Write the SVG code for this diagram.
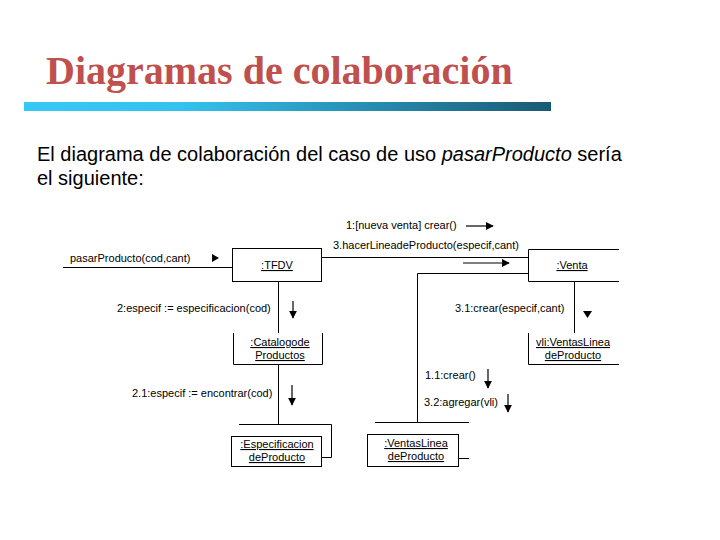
<svg xmlns="http://www.w3.org/2000/svg" width="720" height="540" viewBox="0 0 720 540">
<defs>
<linearGradient id="bar" x1="0" y1="0" x2="1" y2="0">
<stop offset="0" stop-color="#36c8f4"/>
<stop offset="0.3" stop-color="#33c2ee"/>
<stop offset="1" stop-color="#1a5a74"/>
</linearGradient>
<marker id="ah" viewBox="0 0 10 10" refX="9" refY="5" markerWidth="8" markerHeight="8" markerUnits="userSpaceOnUse" orient="auto">
<path d="M0,0 L10,5 L0,10 z" fill="#000"/>
</marker>
</defs>
<style>
.t{font-family:"Liberation Sans",Arial,sans-serif;font-size:11px;fill:#000}
.u{text-decoration:underline;text-anchor:middle}
.ln{stroke:#000;stroke-width:1;fill:none}
.ar{stroke:#000;stroke-width:1.2;fill:none;marker-end:url(#ah)}
.body{font-family:"Liberation Sans",Arial,sans-serif;font-size:20px;fill:#000}
</style>
<rect width="720" height="540" fill="#fff"/>
<text x="46" y="84" font-family="Liberation Serif,'Times New Roman',serif" font-weight="bold" font-size="40" fill="#c0504d">Diagramas de colaboración</text>
<rect x="24" y="102" width="527" height="9" fill="url(#bar)"/>
<text class="body" x="37" y="161">El diagrama de colaboración del caso de uso <tspan font-style="italic">pasarProducto</tspan> sería</text>
<text class="body" x="37" y="185">el siguiente:</text>

<g id="connectors">
<line class="ln" x1="63" y1="267.5" x2="232" y2="267.5"/>
<line class="ln" x1="321" y1="257.5" x2="528" y2="257.5"/>
<polyline class="ln" points="528,273.5 417.5,273.5 417.5,422"/>
<line class="ln" x1="278.5" y1="281" x2="278.5" y2="333"/>
<line class="ln" x1="574.5" y1="281" x2="574.5" y2="333"/>
<line class="ln" x1="278.5" y1="364" x2="278.5" y2="424"/>
<polyline class="ln" points="239,424.5 331.5,424.5 331.5,457.5 322,457.5"/>
<line class="ln" x1="375" y1="422.5" x2="469" y2="422.5"/>
<line class="ln" x1="458" y1="458.5" x2="469" y2="458.5"/>
<path d="M212,254 L219,258 L212,262 z" fill="#000"/>
<line class="ar" x1="466" y1="226" x2="493" y2="226"/>
<line class="ar" x1="463" y1="263" x2="509" y2="263"/>
<line class="ar" x1="293" y1="301" x2="293" y2="318"/>
<path d="M583,311 L592,311 L587.5,318 z" fill="#000"/>
<line class="ar" x1="488" y1="369" x2="488" y2="388"/>
<line class="ar" x1="508" y1="394" x2="508" y2="412"/>
<line class="ar" x1="292" y1="385" x2="292" y2="405"/>
</g>
<g id="labels">
<text class="t" x="346" y="229">1:[nueva venta] crear()</text>
<text class="t" x="70" y="262">pasarProducto(cod,cant)</text>
<text class="t" x="333" y="249">3.hacerLineadeProducto(especif,cant)</text>
<text class="t" x="117" y="312">2:especif := especificacion(cod)</text>
<text class="t" x="455" y="312">3.1:crear(especif,cant)</text>
<text class="t" x="425" y="379">1.1:crear()</text>
<text class="t" x="424" y="406">3.2:agregar(vli)</text>
<text class="t" x="132" y="397">2.1:especif := encontrar(cod)</text>
</g>

<g id="TFDV">
<rect class="ln" x="232.5" y="248.5" width="89" height="33"/>
<text class="t u" x="277" y="269">:TFDV</text>
</g>
<g id="Venta">
<polyline class="ln" points="619,249.5 528.5,249.5 528.5,281.5 619,281.5"/>
<text class="t u" x="572" y="269">:Venta</text>
</g>
<g id="Catalogo">
<polyline class="ln" points="233.5,333 233.5,364.5 322.5,364.5 322.5,333"/>
<text class="t u" x="280" y="346">:Catalogode</text>
<text class="t u" x="280" y="359">Productos</text>
</g>
<g id="vli">
<polyline class="ln" points="528.5,333 528.5,364.5 619,364.5"/>
<text class="t u" x="573" y="346">vli:VentasLinea</text>
<text class="t u" x="573" y="359">deProducto</text>
</g>
<g id="Especificacion">
<rect class="ln" x="231.5" y="436.5" width="90" height="30"/>
<text class="t u" x="277" y="448">:Especificacion</text>
<text class="t u" x="277" y="461">deProducto</text>
</g>
<g id="VentasLinea">
<rect class="ln" x="367.5" y="434.5" width="91" height="32"/>
<text class="t u" x="416" y="447">:VentasLinea</text>
<text class="t u" x="416" y="460">deProducto</text>
</g>
</svg>
